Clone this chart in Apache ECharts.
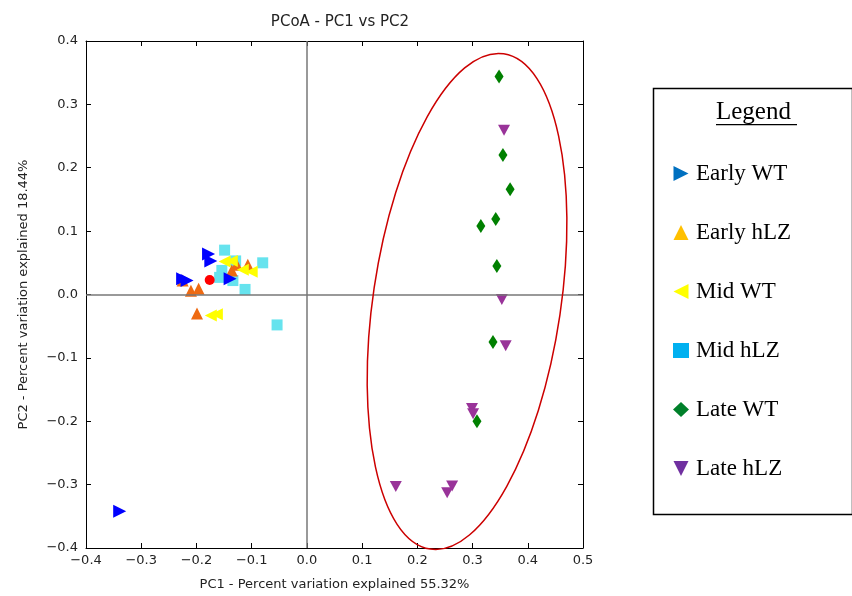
<!DOCTYPE html>
<html><head><meta charset="utf-8">
<script src="https://cdn.jsdelivr.net/npm/echarts@6/dist/echarts.min.js"></script>
<style>html,body{margin:0;padding:0;background:#fff}#c{width:852px;height:596px}</style>
</head><body><div id="c"></div>
<script>
// ---- data (PC1, PC2) ----
const earlyWT = [[-0.178,0.064],[-0.174,0.053],[-0.225,0.025],[-0.217,0.022],[-0.139,0.025],[-0.339,-0.342]];
const earlyHLZ = [[-0.225,0.022],[-0.210,0.006],[-0.196,0.009],[-0.199,-0.030],[-0.127,0.047],[-0.107,0.047],[-0.136,0.038]];
const midWT = [[-0.149,0.052],[-0.136,0.053],[-0.116,0.039],[-0.100,0.036],[-0.163,-0.031],[-0.174,-0.033]];
const midHLZ = [[-0.149,0.070],[-0.080,0.050],[-0.129,0.053],[-0.154,0.038],[-0.158,0.027],[-0.134,0.022],[-0.112,0.008],[-0.054,-0.048]];
const lateWT = [[0.348,0.344],[0.355,0.220],[0.368,0.166],[0.342,0.119],[0.315,0.108],[0.344,0.045],[0.337,-0.075],[0.308,-0.200]];
const lateHLZ = [[0.357,0.259],[0.353,-0.008],[0.360,-0.081],[0.299,-0.180],[0.301,-0.188],[0.263,-0.302],[0.254,-0.313],[0.161,-0.303]];
const otherPts = [[-0.176,0.023]];
const seriesNames = ['Early WT','Early hLZ','Mid WT','Mid hLZ','Late WT','Late hLZ'];
const xTicks = [-0.4,-0.3,-0.2,-0.1,0.0,0.1,0.2,0.3,0.4,0.5];
const yTicks = [-0.4,-0.3,-0.2,-0.1,0.0,0.1,0.2,0.3,0.4];
const ellipseCenter = [0.290,-0.011];
const ellipseRadii = [0.170,0.395];

const RIGHT = 'path://M0,0L10,5L0,10Z';
const LEFT = 'path://M10,0L0,5L10,10Z';
const DOWN = 'path://M0,0L10,0L5,10Z';
const UP = 'path://M5,0L10,10L0,10Z';

const fmt = v => { const s = (Math.abs(v) < 1e-9 ? 0 : v).toFixed(1); return s.replace('-', '\u2212'); };
const font = 'DejaVu Sans';

const chart = echarts.init(document.getElementById('c'), null, {renderer:'canvas'});
const axisCommon = {
  type:'value', min:xTicks[0], interval:0.1,
  axisLine:{show:true, onZero:false, lineStyle:{color:'#000', width:1}},
  axisTick:{show:true, inside:true, length:5, lineStyle:{color:'#000'}},
  splitLine:{show:false}
};
const mk = (name, data, symbol, size, color) => ({
  name, type:'scatter', data, symbol, symbolSize:size,
  itemStyle:{color, opacity:1}, emphasis:{disabled:true}
});

chart.setOption({
  animation:false,
  backgroundColor:'#fff',
  title:{text:'PCoA - PC1 vs PC2', left:335, top:10, textAlign:'center',
    textStyle:{fontFamily:font, fontSize:15, fontWeight:'normal', color:'#222'}},
  grid:{left:86, top:41, width:497, height:512},
  xAxis:[
    Object.assign({}, axisCommon, {min:xTicks[0], max:xTicks[xTicks.length-1], position:'bottom',
      name:'PC1 - Percent variation explained 55.32%', nameLocation:'middle', nameGap:30,
      nameTextStyle:{fontFamily:font, fontSize:13, color:'#222'},
      axisLabel:{formatter:fmt, fontFamily:font, fontSize:13, color:'#222', margin:6}}),
    Object.assign({}, axisCommon, {min:xTicks[0], max:xTicks[xTicks.length-1], position:'top', axisLabel:{show:false}})
  ],
  yAxis:[
    Object.assign({}, axisCommon, {min:yTicks[0], max:yTicks[yTicks.length-1], position:'left',
      name:'PC2 - Percent variation explained 18.44%', nameLocation:'middle', nameGap:56,
      nameTextStyle:{fontFamily:font, fontSize:13, color:'#222'},
      axisLabel:{formatter:fmt, fontFamily:font, fontSize:13, color:'#222', margin:8}}),
    Object.assign({}, axisCommon, {min:yTicks[0], max:yTicks[yTicks.length-1], position:'right', axisLabel:{show:false}})
  ],
  legend:{
    orient:'vertical', left:668, top:157, itemGap:36, itemWidth:16, itemHeight:15,
    textStyle:{fontFamily:'Liberation Serif', fontSize:23, color:'#000', padding:[0,0,0,2]},
    selectedMode:false,
    data:[
      {name:seriesNames[0], icon:RIGHT, itemStyle:{color:'#0070c0'}},
      {name:seriesNames[1], icon:UP, itemStyle:{color:'#ffc000'}},
      {name:seriesNames[2], icon:LEFT, itemStyle:{color:'#ffff00'}},
      {name:seriesNames[3], icon:'rect', itemStyle:{color:'#00b0f0'}},
      {name:seriesNames[4], icon:'diamond', itemStyle:{color:'#00802a'}},
      {name:seriesNames[5], icon:DOWN, itemStyle:{color:'#7030a0'}}
    ]
  },
  series:[
    Object.assign(mk('zero', [], 'none', 0, '#000'), {
      markLine:{silent:true, symbol:['none','none'], label:{show:false},
        lineStyle:{color:'#777', width:1.5, type:'solid'},
        data:[{xAxis:0},{yAxis:0}]}
    }),
    mk(seriesNames[3], midHLZ, 'rect', 11, '#66e3ee'),
    mk(seriesNames[1], earlyHLZ, UP, [12,12], '#ee6a12'),
    mk(seriesNames[2], midWT, LEFT, [12,12], '#ffff00'),
    mk(seriesNames[0], earlyWT, RIGHT, [13,13], '#0000ff'),
    mk('other', otherPts, 'circle', 10, '#ff0000'),
    mk(seriesNames[4], lateWT, 'diamond', [9,14], '#008000'),
    mk(seriesNames[5], lateHLZ, DOWN, [12,11], '#993399')
  ],
  graphic:[
    {type:'rect', left:651, top:86, shape:{width:199, height:426},
      style:{fill:'none', stroke:'#000', lineWidth:1.5}, z:0},
    {type:'text', left:716, top:100, style:{text:'Legend', fontSize:25, fontFamily:'Liberation Serif', fill:'#000'}},
    {type:'rect', left:716, top:124, shape:{width:81, height:1.2}, style:{fill:'#000'}}
  ]
});

const c = chart.convertToPixel({xAxisIndex:0, yAxisIndex:0}, ellipseCenter);
const px = chart.convertToPixel({xAxisIndex:0, yAxisIndex:0}, [ellipseCenter[0]+ellipseRadii[0], ellipseCenter[1]+ellipseRadii[1]]);
chart.setOption({graphic:[{}, {}, {},
  {type:'ellipse', x:c[0], y:c[1], rotation:-0.147,
   shape:{cx:0, cy:0, rx:Math.abs(px[0]-c[0]), ry:Math.abs(px[1]-c[1])},
   style:{fill:'none', stroke:'#cc0000', lineWidth:1.5}, z:10}
]});
</script></body></html>
